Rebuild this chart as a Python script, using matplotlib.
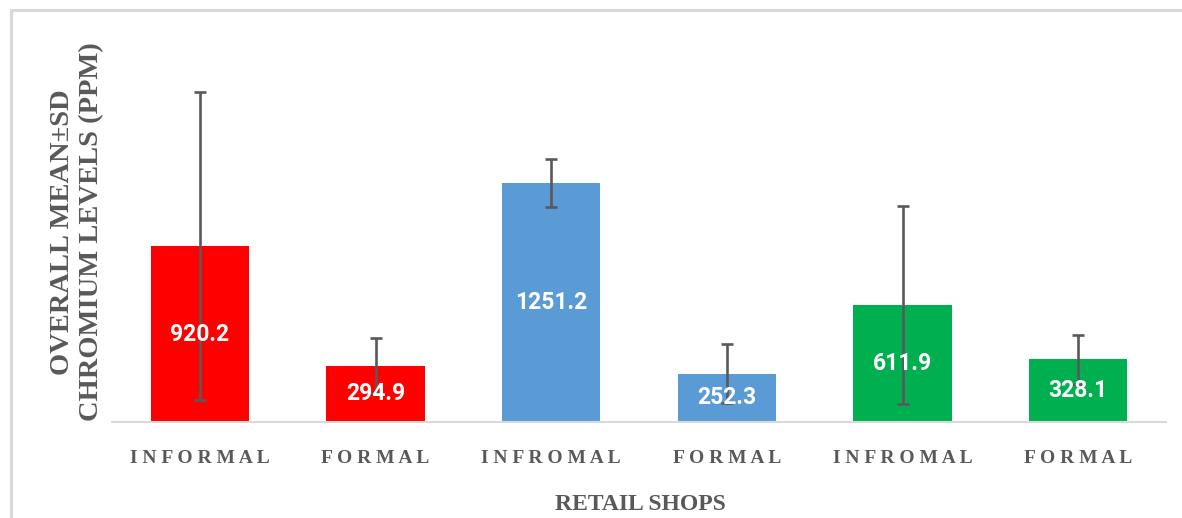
import matplotlib

matplotlib.use("Agg")
import matplotlib.pyplot as plt
from matplotlib.lines import Line2D

# data
shops = ["INFORMAL", "FORMAL", "INFROMAL", "FORMAL", "INFROMAL", "FORMAL"]
means = [920.2, 294.9, 1251.2, 252.3, 611.9, 328.1]
sds = [805, 144, 128, 155, 520, 127]
colors = ["#FF0000", "#FF0000", "#5B9BD5", "#5B9BD5", "#00B050", "#00B050"]

GREY = "#595959"
SERIF = ["Liberation Serif", "DejaVu Serif"]

fig = plt.figure(figsize=(11.82, 5.18), dpi=100)
ax = fig.add_axes([112 / 1182, 96 / 518, 1054 / 1182, 382 / 518])

x = list(range(len(means)))
ax.bar(x, means, width=0.56, color=colors, zorder=2)
ax.errorbar(x, means, yerr=sds, fmt="none", ecolor=GREY, elinewidth=1.9,
            capsize=4.3, capthick=1.9, zorder=3)

for xi, m in zip(x, means):
    ax.text(xi, m / 2, f"{m:.1f}", ha="center", va="center", color="white",
            fontsize=16.5, fontweight="bold", family=["Roboto", "DejaVu Sans"], zorder=4)

ax.set_xlim(-0.5, 5.5)
ax.set_ylim(0, 2000)
ax.set_yticks([])
ax.set_xticks(x)
ax.set_xticklabels([" ".join(s) for s in shops], family=SERIF, fontsize=14,
                   fontweight="bold", color=GREY)
ax.tick_params(axis="x", length=0, pad=20)

for side in ("top", "right", "left"):
    ax.spines[side].set_visible(False)
ax.spines["bottom"].set_color("#D9D9D9")
ax.spines["bottom"].set_linewidth(1.5)

# axis titles placed to match the reference
fig.text(77 / 1182, 1 - 232 / 518, "OVERALL MEAN±SD\nCHROMIUM LEVELS (PPM)",
         rotation=90, ha="center", va="center", family=SERIF, fontsize=20.5,
         fontweight="bold", color=GREY, linespacing=1.2)
fig.text(640 / 1182, 1 - 504 / 518, "RETAIL SHOPS", ha="center", va="center",
         family=SERIF, fontsize=17, fontweight="bold", color=GREY)

# chart-area frame (only top and left edges fall inside the picture)
x0, ytop = 11 / 1182, 1 - 9.5 / 518
fig.add_artist(Line2D([x0, 1.01], [ytop, ytop], color="#D9D9D9", lw=2.2,
                      transform=fig.transFigure))
fig.add_artist(Line2D([x0, x0], [-0.01, ytop], color="#D9D9D9", lw=2.2,
                      transform=fig.transFigure))

fig.savefig("out.png", dpi=100)
